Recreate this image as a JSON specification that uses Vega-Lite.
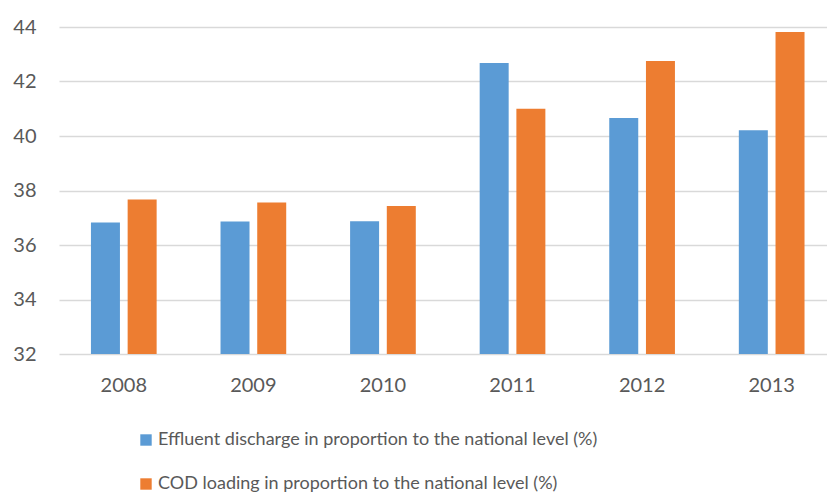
{
  "$schema": "https://vega.github.io/schema/vega-lite/v6.json",
  "width": 768,
  "height": 327,
  "autosize": {"type": "none"},
  "padding": {"left": 59, "top": 27, "right": 0, "bottom": 140},
  "background": "white",
  "data": {
    "values": [
      {"year": "2008", "series": "Effluent discharge in proportion to the national level (%)", "value": 36.83},
      {"year": "2008", "series": "COD loading in proportion to the national level (%)", "value": 37.67},
      {"year": "2009", "series": "Effluent discharge in proportion to the national level (%)", "value": 36.86},
      {"year": "2009", "series": "COD loading in proportion to the national level (%)", "value": 37.56},
      {"year": "2010", "series": "Effluent discharge in proportion to the national level (%)", "value": 36.87},
      {"year": "2010", "series": "COD loading in proportion to the national level (%)", "value": 37.43},
      {"year": "2011", "series": "Effluent discharge in proportion to the national level (%)", "value": 42.68},
      {"year": "2011", "series": "COD loading in proportion to the national level (%)", "value": 41.0},
      {"year": "2012", "series": "Effluent discharge in proportion to the national level (%)", "value": 40.66},
      {"year": "2012", "series": "COD loading in proportion to the national level (%)", "value": 42.75},
      {"year": "2013", "series": "Effluent discharge in proportion to the national level (%)", "value": 40.21},
      {"year": "2013", "series": "COD loading in proportion to the national level (%)", "value": 43.82}
    ]
  },
  "config": {
    "view": {"stroke": null},
    "font": "Lato"
  },
  "mark": {"type": "bar", "clip": true},
  "encoding": {
    "x": {
      "field": "year",
      "type": "nominal",
      "scale": {"paddingInner": 0.493, "paddingOuter": 0.21, "align": 0.587},
      "axis": {
        "title": null,
        "labelAngle": 0,
        "domain": false,
        "ticks": false,
        "labelFont": "Lato",
        "labelFontSize": 20,
        "labelColor": "#595959",
        "labelPadding": 21
      }
    },
    "xOffset": {
      "field": "series",
      "type": "nominal",
      "sort": ["Effluent discharge in proportion to the national level (%)", "COD loading in proportion to the national level (%)"],
      "scale": {"paddingInner": 0.21, "paddingOuter": 0}
    },
    "y": {
      "field": "value",
      "type": "quantitative",
      "scale": {"domain": [32, 44], "nice": false, "zero": false},
      "axis": {
        "title": null,
        "values": [32, 34, 36, 38, 40, 42, 44],
        "domain": false,
        "ticks": false,
        "labelFont": "Lato",
        "labelFontSize": 20,
        "labelColor": "#595959",
        "labelPadding": 23,
        "gridColor": "#D9D9D9",
        "gridWidth": 1.3
      }
    },
    "color": {
      "field": "series",
      "type": "nominal",
      "sort": ["Effluent discharge in proportion to the national level (%)", "COD loading in proportion to the national level (%)"],
      "scale": {"range": ["#5B9BD5", "#ED7D31"]},
      "legend": {
        "title": null,
        "orient": "none",
        "legendX": 78,
        "legendY": 404,
        "direction": "vertical",
        "symbolType": "square",
        "symbolSize": 130,
        "symbolStrokeWidth": 0,
        "labelFont": "Lato",
        "labelFontSize": 18,
        "labelColor": "#595959",
        "labelLimit": 700,
        "rowPadding": 26,
        "labelOffset": 3
      }
    }
  }
}
